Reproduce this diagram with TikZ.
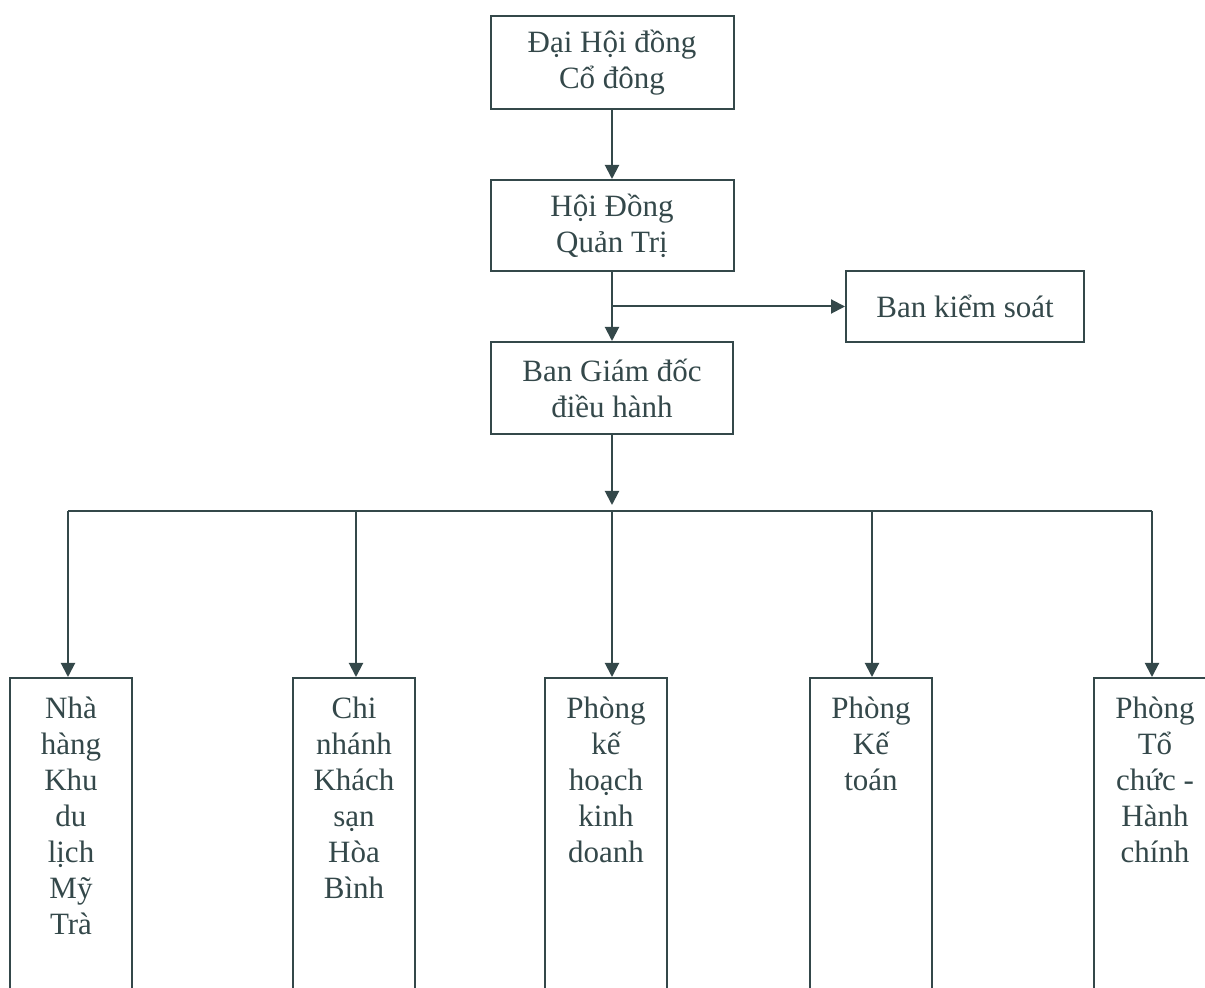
\documentclass[tikz,border=0pt]{standalone}
\usepackage{fontspec}
\setmainfont{Liberation Serif}
\usetikzlibrary{arrows.meta,positioning}
\definecolor{ink}{HTML}{34484A}
\tikzset{
  unit/.style={draw=ink,line width=1pt,text=ink,font=\fontsize{15.5}{18}\selectfont,align=center,inner sep=0pt},
  dept/.style={draw=ink,line width=1pt,minimum width=61pt,minimum height=162pt,anchor=north},
  depttext/.style={text=ink,font=\fontsize{15.5}{18}\selectfont,align=center,inner sep=0pt},
  link/.style={draw=ink,line width=1pt,-{Triangle[length=7pt,width=7pt]}}
}
\begin{document}
\begin{tikzpicture}[x=0.5pt,y=-0.5pt]
      \useasboundingbox (0,0) rectangle (1205,988);
      \clip (0,0) rectangle (1205,988);
      % upper chain
      \node[unit,minimum width=121.5pt,minimum height=46.5pt] (dhcd) at (612,62.5) {Đại Hội đồng\\Cổ đông};
      \node[unit,minimum width=121.5pt,minimum height=45.5pt] (hdqt) at (612,225.5) {Hội Đồng\\Quản Trị};
      \node[unit,minimum width=121pt,minimum height=46pt] (bgd) at (612,388) {Ban Giám đốc\\điều hành};
      \node[unit,minimum width=119pt,minimum height=35.5pt] (bks) at (965,306.5) {Ban kiểm soát};
      \draw[link] (dhcd) -- (hdqt);
      \draw[link] (hdqt) -- (bgd);
      \coordinate (fork) at (612,306.5);
      \draw[link] (fork) -- (bks);
      % departments
      \node[dept] (d1) at (71,677) {};
      \node[dept] (d2) at (354,677) {};
      \node[dept] (d3) at (606,677) {};
      \node[dept] (d4) at (871,677) {};
      \node[dept] (d5) at (1155,677) {};
      \node[depttext,below=10pt of d1.north] (t1) {Nhà\\hàng\\Khu\\du\\lịch\\Mỹ\\Trà};
      \node[depttext,below=10pt of d2.north] (t2) {Chi\\nhánh\\Khách\\sạn\\Hòa\\Bình};
      \node[depttext,below=10pt of d3.north] (t3) {Phòng\\kế\\hoạch\\kinh\\doanh};
      \node[depttext,below=10pt of d4.north] (t4) {Phòng\\Kế\\toán};
      \node[depttext,below=10pt of d5.north] (t5) {Phòng\\Tổ\\chức -\\Hành\\chính};
      % bus
      \coordinate (bus) at (612,511);
      \coordinate (busl) at (68,511);
      \coordinate (busr) at (1152,511);
      \draw[link,shorten >=3pt] (bgd) -- (bus);
      \draw[draw=ink,line width=1pt] (busl) -- (busr);
      \foreach \d/\x in {d1/68,d2/356,d3/612,d4/872,d5/1152}
        \draw[link] (\x,511) -- (\x,677);
\end{tikzpicture}
\end{document}
